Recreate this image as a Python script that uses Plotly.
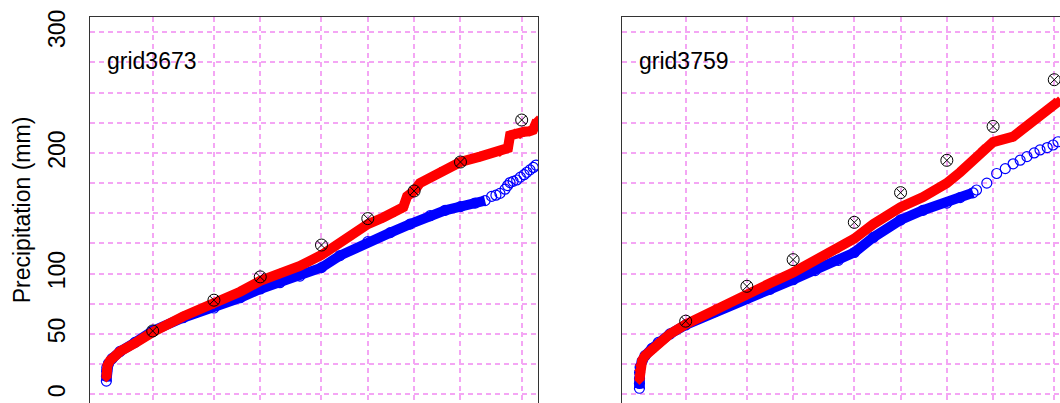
import plotly.graph_objects as go

# ---------------------------------------------------------------
# Return periods (years) and precipitation depths (mm)
# ---------------------------------------------------------------
return_periods = [2, 5, 10, 25, 50, 100, 200, 500]

# grid3673 -- sorted sample (blue circles)
g3673_obs_T = [1.000, 1.001, 1.003, 1.006, 1.032, 1.088, 1.226, 1.535, 2.0, 3.15,
               5.0, 7.4, 10, 13.4, 18.1, 25, 33, 50, 70, 94,
               127, 159, 200, 249, 289, 319, 340, 361, 390, 405,
               420, 440, 464, 490, 518, 540, 566, 595, 619]
g3673_obs_mm = [11, 15, 19, 22, 25.5, 29.5, 35.5, 43, 52.5, 63.5,
                71.5, 80, 87.3, 92.5, 98, 105, 115, 126.5, 134, 141,
                148, 152.5, 155.5, 158.5, 160.5, 164, 165, 166.5, 170, 173,
                175.5, 176.5, 177.6, 180, 182, 184, 186, 188, 190]

# grid3673 -- simulated sample (red diamonds)
g3673_sim_T = [1.000, 1.002, 1.006, 1.017, 1.056, 1.14, 1.23, 1.54, 2.0, 3.15,
               5.0, 7.4, 10, 13.4, 18.1, 25, 33, 50, 63, 75,
               85, 90, 100, 109, 147, 200, 268, 361, 407, 420,
               450, 488, 520, 560, 592, 629]
g3673_sim_mm = [14, 17, 20.5, 24, 28, 32, 35.5, 42.5, 51.5, 64.5,
                75, 85, 94, 100, 106.3, 115.4, 125.5, 141, 146.5, 151,
                155, 164, 168.5, 175, 184, 192.5, 197, 201, 204, 214.5,
                216, 215.7, 217.6, 218, 219, 226.7]

# grid3673 -- fitted return levels (crossed circles)
g3673_rl_mm = [52.5, 78, 97.3, 123.7, 145.6, 168.5, 192.5, 227.3]

# grid3759 -- sorted sample (blue circles)
g3759_obs_T = [1.000, 1.000, 1.001, 1.002, 1.010, 1.041, 1.087, 1.207, 1.327, 1.58,
               2.0, 3.1, 5.0, 7.07, 10, 13.9, 19.7, 25, 33.2, 50,
               70, 100, 122, 148, 156, 182, 211, 240, 270, 300,
               332, 370, 404, 450, 491, 529]
g3759_obs_mm = [5, 9, 13, 18, 22.5, 27.5, 32, 38, 43, 50,
                57.5, 68.5, 79.5, 87, 95, 102.5, 111, 117.5, 130, 144.5,
                152.5, 158.5, 163, 167, 169.3, 175, 183, 187, 191, 194,
                197, 200, 202.5, 204.5, 206.6, 209.3]

# grid3759 -- simulated sample (red diamonds)
g3759_sim_T = [1.000, 1.001, 1.002, 1.010, 1.041, 1.087, 1.207, 1.327, 1.58, 2.0,
               3.1, 5.0, 7.07, 10, 13.9, 19.7, 25, 33.2, 50, 70,
               100, 122, 148, 172, 200, 270, 332, 404, 491, 529]
g3759_sim_mm = [12, 16, 20, 24, 28, 32, 37.5, 42.5, 50, 58,
                70.5, 82.5, 92, 101, 111, 121, 129, 141, 155, 163.5,
                175, 184, 194, 203, 209, 213.5, 222, 231, 239.5, 242.5]

# grid3759 -- fitted return levels (crossed circles)
g3759_rl_mm = [60.6, 89.5, 111.6, 142.5, 167.1, 193.9, 222, 260.7]

# y axis: grid every 25 mm, tick marks every 50 mm, a few labels
y_grid = [0, 25, 50, 75, 100, 125, 150, 175, 200, 225, 250, 275, 300]
y_grid_text = ["0", "", "50", "", "100", "", "", "", "200", "", "", "", "300"]
y_ticks = [0, 50, 100, 150, 200, 250, 300]

# ---------------------------------------------------------------
W, H = 1060, 403
FONT = "Liberation Sans, Arial, Helvetica, sans-serif"
BLUE, RED = "#0000FF", "#FF0000"
VIOLET = "#F4A6F4"
GRID = dict(showgrid=True, gridcolor=VIOLET, griddash="5px,4px", gridwidth=2)
FRAME = "#333333"

fig = go.Figure()


def add_panel(xa, ya, obs_T, obs_mm, sim_T, sim_mm, rl_mm, band_limit):
    # dense part of the sorted sample drawn as a solid band
    bx = [t for t in obs_T if t <= band_limit]
    by = [v for t, v in zip(obs_T, obs_mm) if t <= band_limit]
    fig.add_trace(go.Scatter(x=bx, y=by, mode="lines", xaxis=xa, yaxis=ya,
                             line=dict(color=BLUE, width=10), hoverinfo="skip",
                             showlegend=False))
    fig.add_trace(go.Scatter(x=obs_T, y=obs_mm, mode="markers", xaxis=xa, yaxis=ya,
                             marker=dict(symbol="circle-open", size=10, color=BLUE,
                                         line=dict(width=1.2, color=BLUE)),
                             showlegend=False))
    fig.add_trace(go.Scatter(x=sim_T, y=sim_mm, mode="lines+markers", xaxis=xa, yaxis=ya,
                             line=dict(color=RED, width=10),
                             marker=dict(symbol="diamond", size=8, color=RED),
                             showlegend=False))
    fig.add_trace(go.Scatter(x=return_periods, y=rl_mm, mode="markers", xaxis=xa, yaxis=ya,
                             marker=dict(symbol="circle-x-open", size=12, color="black",
                                         line=dict(width=1, color="black")),
                             showlegend=False))


add_panel("x", "y", g3673_obs_T, g3673_obs_mm, g3673_sim_T, g3673_sim_mm, g3673_rl_mm, 300)
add_panel("x2", "y2", g3759_obs_T, g3759_obs_mm, g3759_sim_T, g3759_sim_mm, g3759_rl_mm, 150)

y_range = [-7.21, 312.68]


def x_axis(domain, rng, anchor):
    return dict(domain=domain, type="log", range=rng, tickvals=return_periods,
                showticklabels=False, ticks="", side="top", showline=True,
                linecolor=FRAME, linewidth=1, zeroline=False, anchor=anchor, **GRID)


fig.update_layout(
    width=W, height=H,
    margin=dict(l=0, r=0, t=17, b=0, autoexpand=False),
    paper_bgcolor="white", plot_bgcolor="white",
    font=dict(family=FONT, size=23, color="black"),
    xaxis=x_axis([90 / W, 538.3 / W], [-0.1064, 2.8069], "y"),
    xaxis2=x_axis([622.3 / W, 1.0], [-0.1115, 2.7363], "y2"),
    yaxis=dict(domain=[0, 1], range=y_range, anchor="x", tickvals=y_grid,
               ticktext=y_grid_text, tickangle=-90, ticks="", ticklabelstandoff=15,
               tickfont=dict(family=FONT, size=23, color="black"),
               showline=True, mirror=True, linecolor=FRAME, linewidth=1,
               zeroline=False, automargin=False,
               title=dict(text="Precipitation (mm)", standoff=6,
                          font=dict(family=FONT, size=23, color="black")),
               **GRID),
    # tick marks every 50 mm on the left frame
    yaxis3=dict(domain=[0, 1], range=y_range, anchor="x", overlaying="y", side="left",
                tickvals=y_ticks, showticklabels=False, ticks="outside", ticklen=10,
                tickcolor=FRAME, tickwidth=1, showgrid=False, showline=False,
                zeroline=False),
    yaxis2=dict(domain=[0, 1], range=y_range, anchor="x2", tickvals=y_grid,
                showticklabels=False, ticks="", showline=True, mirror=False,
                linecolor=FRAME, linewidth=1, zeroline=False, **GRID),
    annotations=[
        dict(text="grid3673", xref="paper", yref="paper", x=105 / W, y=(H - 61) / (H - 17),
             xanchor="left", yanchor="middle", showarrow=False,
             font=dict(family=FONT, size=23, color="black")),
        dict(text="grid3759", xref="paper", yref="paper", x=637.3 / W, y=(H - 61) / (H - 17),
             xanchor="left", yanchor="middle", showarrow=False,
             font=dict(family=FONT, size=23, color="black")),
    ],
)

fig.write_html("out.html")
